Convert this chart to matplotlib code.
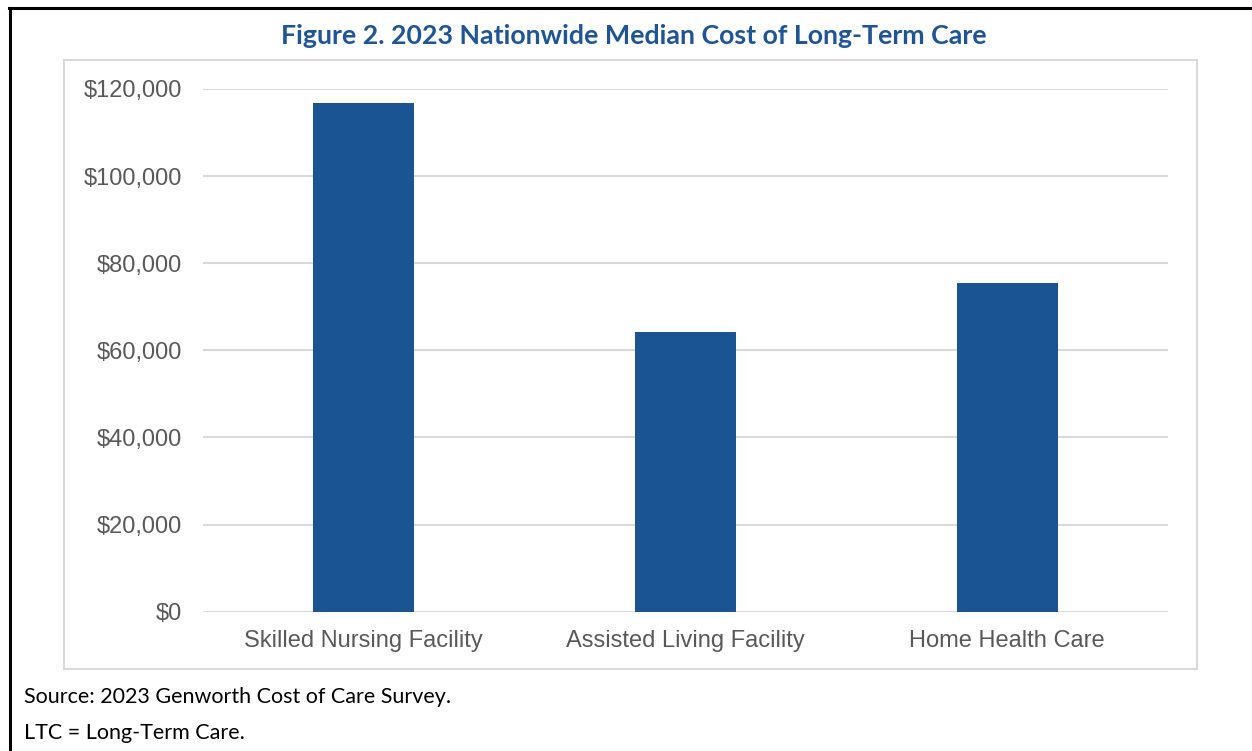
import matplotlib
matplotlib.use("Agg")
import matplotlib.pyplot as plt
from matplotlib.patches import Rectangle
from matplotlib.lines import Line2D
from matplotlib.ticker import FuncFormatter

# data
categories = ["Skilled Nursing Facility", "Assisted Living Facility", "Home Health Care"]
costs = [116800, 64200, 75504]
y_ticks = [0, 20000, 40000, 60000, 80000, 100000, 120000]

bar_color = "#1A5493"
grid_color = "#D9D9D9"
label_color = "#595959"

fig = plt.figure(figsize=(12.52, 7.51), dpi=100)

# outer black border (only top and left edges visible)
fig.add_artist(Line2D([0.0072, 1.0], [0.990, 0.990], color="black", lw=2.2,
                      transform=fig.transFigure))
fig.add_artist(Line2D([0.0076, 0.0076], [0.0, 0.990], color="black", lw=2.2,
                      transform=fig.transFigure))

# light gray chart frame
fig.add_artist(Rectangle((0.0511, 0.1092), 0.905, 0.811, fill=False,
                         edgecolor=grid_color, lw=1.5, transform=fig.transFigure))

ax = fig.add_axes([0.1621, 0.1855, 0.7708, 0.696])
x = range(len(categories))
ax.bar(x, costs, width=0.314, color=bar_color, zorder=3)

ax.set_xlim(-0.5, len(categories) - 0.5)
ax.set_ylim(0, 120000)
ax.set_yticks(y_ticks)
ax.yaxis.set_major_formatter(FuncFormatter(lambda v, p: f"${v:,.0f}"))
ax.set_xticks(list(x))
ax.set_xticklabels(categories)

ax.grid(axis="y", color=grid_color, lw=1.5, zorder=0)
for s in ax.spines.values():
    s.set_visible(False)
ax.tick_params(axis="both", length=0, labelcolor=label_color, labelsize=17)
ax.tick_params(axis="y", pad=15)
ax.tick_params(axis="x", pad=13)
for t in ax.get_xticklabels() + ax.get_yticklabels():
    t.set_fontfamily("Liberation Sans")

fig.text(0.506, 0.952, "Figure 2. 2023 Nationwide Median Cost of Long-Term Care",
         ha="center", va="center", fontsize=19.3, fontweight="bold",
         color="#1F5597", family="Lato")

fig.text(0.019, 0.072, "Source: 2023 Genworth Cost of Care Survey.",
         ha="left", va="center", fontsize=15.5, color="black", family="Lato")
fig.text(0.019, 0.024, "LTC = Long-Term Care.",
         ha="left", va="center", fontsize=15.5, color="black", family="Lato")

fig.savefig("out.png", dpi=100)
